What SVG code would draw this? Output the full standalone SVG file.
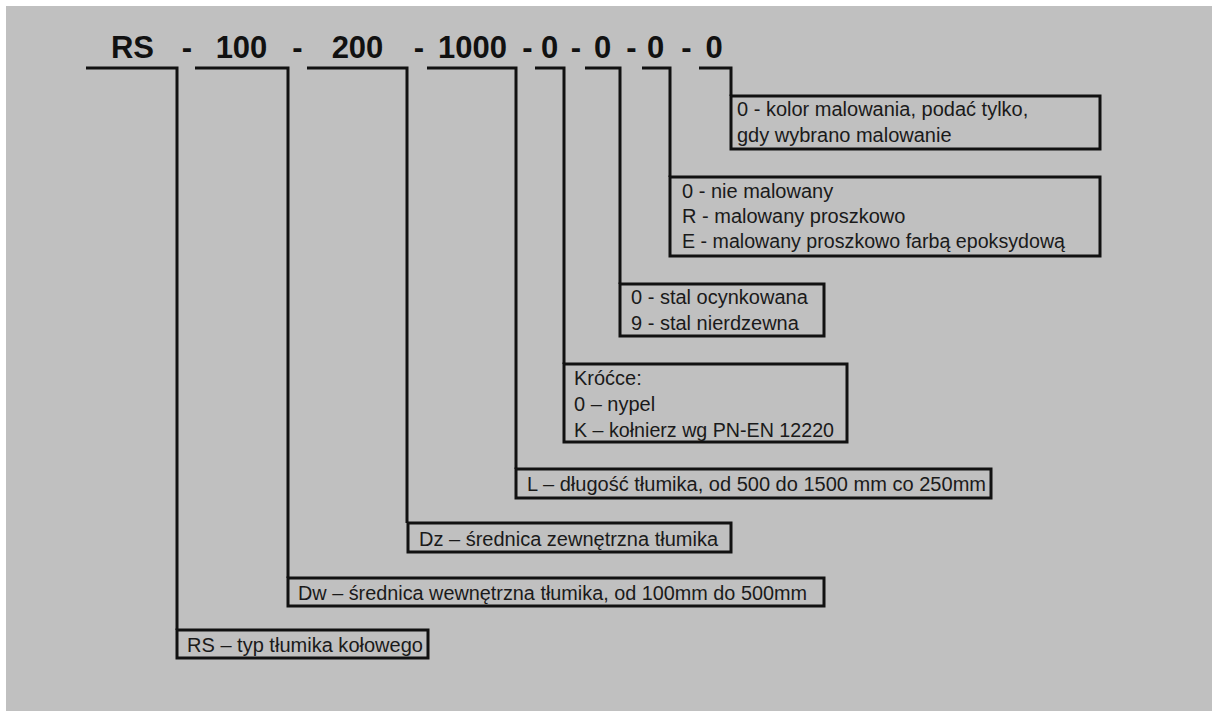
<svg xmlns="http://www.w3.org/2000/svg" width="1212" height="711" viewBox="0 0 1212 711">
<style>
.hdr{font-family:"Liberation Sans",Arial,sans-serif;font-weight:bold;font-size:31px;fill:#111;text-anchor:middle}
.t{font-family:"Liberation Sans",Arial,sans-serif;font-size:20px;fill:#1a1a1a}
.box{fill:none;stroke:#111;stroke-width:3}
.con{fill:none;stroke:#111;stroke-width:3;stroke-linejoin:miter}
</style>
<rect x="0" y="0" width="1212" height="711" fill="#ffffff"/>
<rect x="6" y="6" width="1206" height="705" fill="#c0c0c0"/>
<g id="header">
<text class="hdr" x="132.5" y="58">RS</text>
<text class="hdr" x="187" y="58">-</text>
<text class="hdr" x="241.5" y="58">100</text>
<text class="hdr" x="297.5" y="58">-</text>
<text class="hdr" x="357.5" y="58">200</text>
<text class="hdr" x="419" y="58">-</text>
<text class="hdr" x="472.5" y="58">1000</text>
<text class="hdr" x="527.5" y="58">-</text>
<text class="hdr" x="549.5" y="58">0</text>
<text class="hdr" x="576" y="58">-</text>
<text class="hdr" x="602.5" y="58">0</text>
<text class="hdr" x="631.5" y="58">-</text>
<text class="hdr" x="655.5" y="58">0</text>
<text class="hdr" x="686.5" y="58">-</text>
<text class="hdr" x="714" y="58">0</text>
</g>
<g id="connectors">
<path class="con" d="M86,68 H177 V630"/>
<path class="con" d="M195,68 H288 V578"/>
<path class="con" d="M307,68 H407 V523"/>
<path class="con" d="M427,68 H516 V469"/>
<path class="con" d="M535,68 H564 V364"/>
<path class="con" d="M585,68 H620 V284"/>
<path class="con" d="M642,68 H670 V177"/>
<path class="con" d="M699,68 H731 V96"/>
</g>
<g id="box-kolor">
<rect class="box" x="731" y="96" width="369" height="53"/>
<text class="t" x="737" y="116">0 - kolor malowania, podać tylko,</text>
<text class="t" x="737" y="142">gdy wybrano malowanie</text>
</g>
<g id="box-malowanie">
<rect class="box" x="670" y="177" width="430" height="79"/>
<text class="t" x="682" y="198">0 - nie malowany</text>
<text class="t" x="682" y="223">R - malowany proszkowo</text>
<text class="t" x="682" y="248" textLength="383" lengthAdjust="spacingAndGlyphs">E - malowany proszkowo farbą epoksydową</text>
</g>
<g id="box-stal">
<rect class="box" x="620" y="284" width="204" height="52"/>
<text class="t" x="631" y="304">0 - stal ocynkowana</text>
<text class="t" x="631" y="330">9 - stal nierdzewna</text>
</g>
<g id="box-krocce">
<rect class="box" x="564" y="364" width="283" height="78"/>
<text class="t" x="574" y="385">Króćce:</text>
<text class="t" x="574" y="411">0 – nypel</text>
<text class="t" x="574" y="437" textLength="260" lengthAdjust="spacingAndGlyphs">K – kołnierz wg PN-EN 12220</text>
</g>
<g id="box-L">
<rect class="box" x="516" y="469" width="475" height="29"/>
<text class="t" x="527" y="491" textLength="459" lengthAdjust="spacingAndGlyphs">L – długość tłumika, od 500 do 1500 mm co 250mm</text>
</g>
<g id="box-Dz">
<rect class="box" x="408" y="523" width="323" height="29"/>
<text class="t" x="419" y="546">Dz – średnica zewnętrzna tłumika</text>
</g>
<g id="box-Dw">
<rect class="box" x="288" y="578" width="536" height="28"/>
<text class="t" x="298" y="600" textLength="509" lengthAdjust="spacingAndGlyphs">Dw – średnica wewnętrzna tłumika, od 100mm do 500mm</text>
</g>
<g id="box-RS">
<rect class="box" x="177" y="630" width="251" height="28"/>
<text class="t" x="187" y="652" textLength="236" lengthAdjust="spacingAndGlyphs">RS – typ tłumika kołowego</text>
</g>
</svg>
